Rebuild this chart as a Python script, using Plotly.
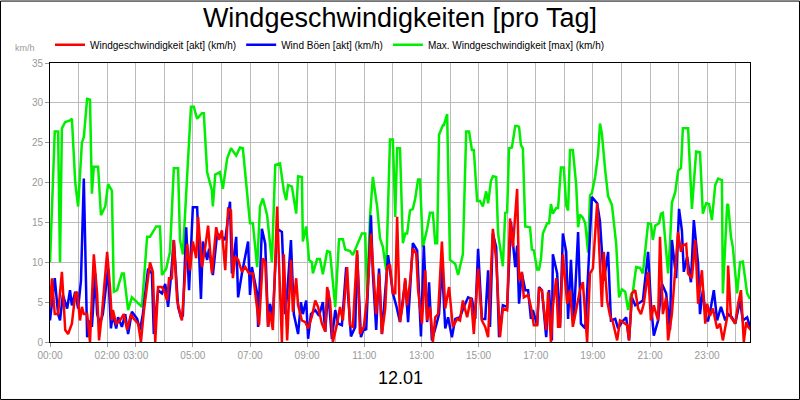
import plotly.graph_objects as go

# times in minutes after midnight
green_t = [0,10,17,21,25,32,42,46,53,59,67,71,78,84,88,92,101,107,116,122,130,134,141,151,155,164,172,183,193,204,210,223,231,235,244,252,260,269,273,279,288,296,302,309,319,323,330,340,342,347,357,363,372,380,391,399,405,412,420,426,435,441,447,456,466,473,483,491,
496,500,508,517,521,529,531,538,544,550,552,561,567,573,582,588,599,607,615,620,630,636,645,655,662,666,672,678,687,693,699,706,714,720,725,729,735,741,746,750,756,762,767,773,777,783,792,798,804,809,813,817,825,827,834,840,851,857,867,874,880,886,890,897,903,909,916,920,926,930,937,941,951,956,960,964,970,977,981,985,989,993,998,1008,1012,1016,1023,1027,1031,1035,1044,1048,1052,1056,1063,1067,1073,1079,1084,1088,1092,1098,1105,1109,1113,1119,1124,1130,1134,1138,1145,1151,1155,1159,1166,1172,1180,1189,1195,1201,1208,1214,1220,1224,1231,1239,1245,1252,1256,1262,1266,1271,1279,1283,1287,1298,1302,1306,1313,1319,1325,1329,1340,1348,1357,1365,1371,1378,1384,1390,1397,1403,1411,1413,1422,1424,1430,1434,1443,1449,1455,1464,1470]
green_v = [10,26.4,26.4,10,26.8,27.6,27.8,28,20,17,25,25.7,30.5,30.4,18.6,22,22,15.9,17,19.8,19,6.3,6.5,8.6,8.6,4,5.6,5,4.4,13.2,13.2,14.5,14.5,8.4,9.2,11.3,21.8,21.8,12.8,11,20.3,29.5,29.5,28,28.7,28.7,21.3,19,17,21,21.3,19.2,23,24.3,23.4,24.4,24.3,19.9,14.9,14.9,9.4,17,18,15.9,10,22.2,22.4,19,
17.8,19.7,19.5,16.1,20.8,20.7,12.6,14.5,10.3,10,8.6,10.4,10.4,8.5,11.4,11.3,4.4,12.9,12.9,11.6,11.4,10.9,12.2,13.6,13.6,5.6,15.7,20.7,17,13,11.9,9,25.4,25.4,15.7,24.3,24.3,12.4,13.6,13.6,16.5,16.7,18,20.4,20.4,11.9,14.2,16.2,16.2,12.4,12.4,26,27.2,27.2,28.6,10.3,9.8,8.4,11,26.4,26.4,24.1,24.1,17.7,17.7,17,18.9,17.4,20.2,20.8,20.7,13.6,9.5,16.2,16.3,24.3,24.4,27.1,27.1,27,24.7,24.3,14.5,14.4,11.6,11.5,9.1,9.1,10.4,13.6,14.9,14.9,17.3,16.1,16.8,16.8,21.9,21.9,17.1,16.5,24.1,24.1,19.7,14.4,16,15.6,14.9,11.2,18.4,18.7,20.8,23.6,27.4,26.1,21.5,18.3,17.2,12.3,5.6,6.6,6.3,4,5.9,6.3,9.4,9.3,8.6,12.8,14.9,14.8,12.8,14.6,14.9,16.1,16.2,8.6,12.3,17.5,18.8,21.5,21.8,26.8,26.8,16.7,23.9,23.8,16.1,17.4,17.3,15.3,19.7,20.5,20.3,6.1,17.2,17.3,13.2,11.9,6.1,10,10.1,6.1,5.4]

red_t = [0,4,10,17,25,32,38,46,53,57,63,67,71,78,84,92,99,103,109,120,126,130,132,139,147,155,162,170,176,185,191,197,210,216,221,227,235,239,246,250,256,260,267,277,288,294,300,307,311,319,326,332,340,349,355,361,368,374,380,384,389,395,403,410,418,426,435,439,447,452,458,462,468,477,481,487,491,498,506,510,517,521,529,536,542,550,557,563,571,578,582,588,594,603,609,615,624,630,636,645,651,659,666,674,678,685,691,697,704,708,714,720,725,729,735,741,746,750,756,762,769,773,781,788,792,798,804,809,815,823,830,838,846,855,861,867,876,884,890,899,907,914,920,930,937,945,951,960,966,972,981,985,991,995,1004,1010,1016,1023,1027,1033,1042,1046,1052,1056,1063,1067,1071,1077,1086,1092,1098,1107,1113,1119,1128,1134,1140,1149,1155,1159,1163,1170,1176,1182,1191,1197,1203,1212,1216,1222,1229,1235,1241,1247,1256,1262,1268,1277,1281,1287,1294,1298,1306,1310,1319,1325,1329,1336,1340,1348,1355,1361,1369,1376,1380,1386,1392,1401,1407,1413,1422,1424,1430,1439,1445,1451,1457,1462,1466,1472]
red_v = [4.4,8,3.5,3.5,8.8,1.5,1,2.3,6,6.3,2.7,4.4,3.5,3.5,0,11,6,0.2,3.5,11.3,6.9,2.7,4,2.3,2.7,3.5,1.5,3.5,2.9,2.3,0,3.8,10,8.8,0,6.9,6.9,6.5,5.2,8,8,12.8,5.2,2.7,12.3,9,12.6,10.5,15.7,9.4,11.9,14.6,8.6,14.4,12.8,14,9,16.7,16.5,8,10.7,10.3,8.8,9.4,8.6,8.6,4.2,2.1,10.5,10,1.9,3.8,1.5,17,9.8,0,11,0.2,10.3,3.8,8,4.6,2.7,2.5,1.7,3.2,5.2,4.4,2.3,1.3,6.9,5.2,0,2.3,4.4,2.7,9.4,2.1,1.9,11.5,1,1.9,5.6,13.6,9.8,3.5,8.6,1,4.2,9.4,9.7,6.1,6.1,15.7,2.5,4.8,8,4.6,7.5,11.7,11.1,6.5,2.3,9,2.7,4.4,0,3.1,3.5,12.6,4.2,6.9,1.9,2.9,2.7,5.2,3.1,5.6,1,9.2,2.7,1.9,0.6,14.2,10.3,0.6,4.2,4,15.5,11.9,19.2,7.7,8.8,5.6,5.9,4.4,2.1,2.1,6.7,6.5,1.5,6.3,0,4.4,8,1.9,1.9,11,4.8,6.5,1.9,4.4,6.5,7.5,0,8.6,9.2,17.4,10.3,4.4,11.3,5.2,3.3,2.5,0.2,2.7,2.5,2.1,0.2,6.1,6.5,4.2,3.5,4.8,8.8,2.7,4.6,2.7,13.2,3.5,5.6,0.2,3.5,6.5,13.8,11.3,12.1,12.3,8.6,8,12.8,4.8,9,2.3,4.8,3.3,4.2,1.7,2.3,0.2,3.1,9.6,3.1,2.3,4.8,6.5,0,2.5,1.9,1.5]

blue_t = [0,10,17,21,27,36,42,46,53,59,65,71,78,84,88,95,99,105,111,122,128,132,139,143,151,158,164,172,183,189,195,206,214,218,227,235,242,248,254,260,269,275,279,286,292,300,309,317,321,330,334,342,351,361,368,378,382,391,395,403,416,420,424,435,437,445,452,458,462,468,477,487,494,498,506,512,521,527,531,538,542,548,557,565,573,578,584,592,599,605,613,622,632,641,645,653,659,664,674,678,685,691,697,710,720,727,735,746,752,762,771,779,785,792,796,802,811,817,823,830,836,844,851,861,869,878,886,893,899,907,914,920,924,930,937,943,951,960,968,977,981,985,991,998,1004,1010,1014,1023,1027,1033,1042,1048,1054,1056,1065,1071,1077,1084,1088,1094,1100,1109,1115,1124,1130,1138,1149,1155,1163,1172,1178,1187,1193,1201,1210,1216,1222,1229,1235,1245,1256,1262,1268,1277,1285,1294,1302,1306,1315,1321,1327,1331,1338,1346,1352,1361,1365,1371,1378,1382,1388,1394,1401,1409,1418,1424,1432,1439,1449,1455,1464,1472]
blue_v = [2.7,8,3.5,2.7,5.9,4.2,6.5,4.6,6.3,4.2,7.7,20.5,0.6,2.7,1.9,8.6,3.5,2.3,3.5,9.2,1.7,3.5,1.7,3.1,1.9,3.5,1,3.8,2.9,1.5,3.5,9.2,8.6,1,6.5,6.1,7.3,4.4,8.2,12.8,4.4,3.1,3.3,14.4,6.5,16.9,16.9,5.4,12.6,10.3,11.7,8.4,13.6,13.2,12.8,17.6,8.6,13.2,5.6,8.6,12.6,5.9,9.4,6.1,1.9,14.2,12.3,1.9,4.8,3.1,14.2,13.8,3.5,6,12.8,3.5,1,5,3.5,5.2,0.4,3.5,4,3.3,5,1.3,6.5,0.4,4,2.3,2.1,9.4,0.7,1.9,11,0.6,1.7,1.5,15.9,8.6,1.5,9.2,1,10.9,6.1,4.6,2.5,7.7,2.5,12.4,11.5,0.7,12.1,2.5,7.5,0.2,2.1,3.5,9.8,1.7,3.1,0.6,2.9,3.1,4.4,5.6,5.4,2.9,11.7,2.9,2.9,9,1.9,13.6,11.9,0.6,4.6,4.4,15.1,9.4,12.1,4.8,8.6,6.5,6.5,2.9,4,2.1,6.9,6.5,0.6,6.5,0.2,11,8.6,1.9,13.6,11.3,2.9,10.3,2.7,13.8,2.3,1.7,8.6,18.2,17.4,15.1,7.7,11.3,2.7,2.9,1.7,2.5,3.1,0.2,5.6,4.6,4.8,5.2,11.3,4.8,0.8,2.7,7.3,6.1,1.5,12.8,8,16.7,14,8.8,10.7,7.5,15.3,9.8,3.5,6.5,2.7,2.7,4.4,6.5,2.7,4.4,2.7,3.5,3.1,2.3,5.2,2.7,3.1,1.5]

tick_vals = [0,120,180,300,420,540,660,780,900,1020,1140,1260,1380]
tick_text = ["00:00","02:00","03:00","05:00","07:00","09:00","11:00","13:00","15:00","17:00","19:00","21:00","23:00"]

fig = go.Figure()
fig.add_trace(go.Scatter(x=green_t, y=green_v, mode="lines", name="Max. Windgeschwindigkeit [max] (km/h)", line=dict(color="#00ee00", width=2.5)))
fig.add_trace(go.Scatter(x=blue_t, y=blue_v, mode="lines", name="Wind Böen [akt] (km/h)", line=dict(color="#0000ff", width=2.5)))
fig.add_trace(go.Scatter(x=red_t, y=red_v, mode="lines", name="Windgeschwindigkeit [akt] (km/h)", line=dict(color="#ff0000", width=2.5)))

fig.update_layout(
    width=800, height=400, paper_bgcolor="white", plot_bgcolor="white",
    margin=dict(l=50, r=50, t=63, b=58, autoexpand=False),
    font=dict(family="Liberation Sans, Arial", color="#999999", size=10),
    title=dict(text="Windgeschwindigkeiten [pro Tag]", x=0.5, xanchor="center", y=0.955, yanchor="middle",
               font=dict(size=27, color="black")),
    legend=dict(orientation="h", x=0.0, y=1.065, xanchor="left", yanchor="middle", traceorder="reversed",
                font=dict(size=10, color="black"), itemwidth=30, bgcolor="rgba(0,0,0,0)"),
    showlegend=True,
)
fig.update_xaxes(range=[0, 1470], tickvals=tick_vals, ticktext=tick_text, showgrid=True, gridcolor="#bbbbbb",
                 minor=dict(dtick=60, tick0=0, showgrid=True, gridcolor="#bbbbbb"),
                 showline=True, linecolor="black", mirror=True, zeroline=False, ticks="outside", tickcolor="#999999", ticklen=4)
fig.update_yaxes(range=[0, 35], dtick=5, showgrid=True, gridcolor="#bbbbbb", showline=True, linecolor="black",
                 mirror=True, zeroline=False, ticks="outside", tickcolor="#999999", ticklen=4)
fig.add_annotation(text="km/h", xref="paper", yref="paper", x=-0.035, y=1.055, showarrow=False,
                   font=dict(size=9, color="#999999"), xanchor="center", yanchor="middle")
fig.add_annotation(text="12.01", xref="paper", yref="paper", x=0.5, y=-0.13, showarrow=False,
                   font=dict(size=18, color="black"), xanchor="center", yanchor="middle")
fig.add_shape(type="rect", xref="paper", yref="paper", x0=-0.0707, x1=1.0707, y0=-0.206, y1=1.222,
              line=dict(color="black", width=1))
fig.write_html("out.html", config={"displayModeBar": False},
               post_script="document.body.style.margin='0';document.body.style.overflow='hidden';")
